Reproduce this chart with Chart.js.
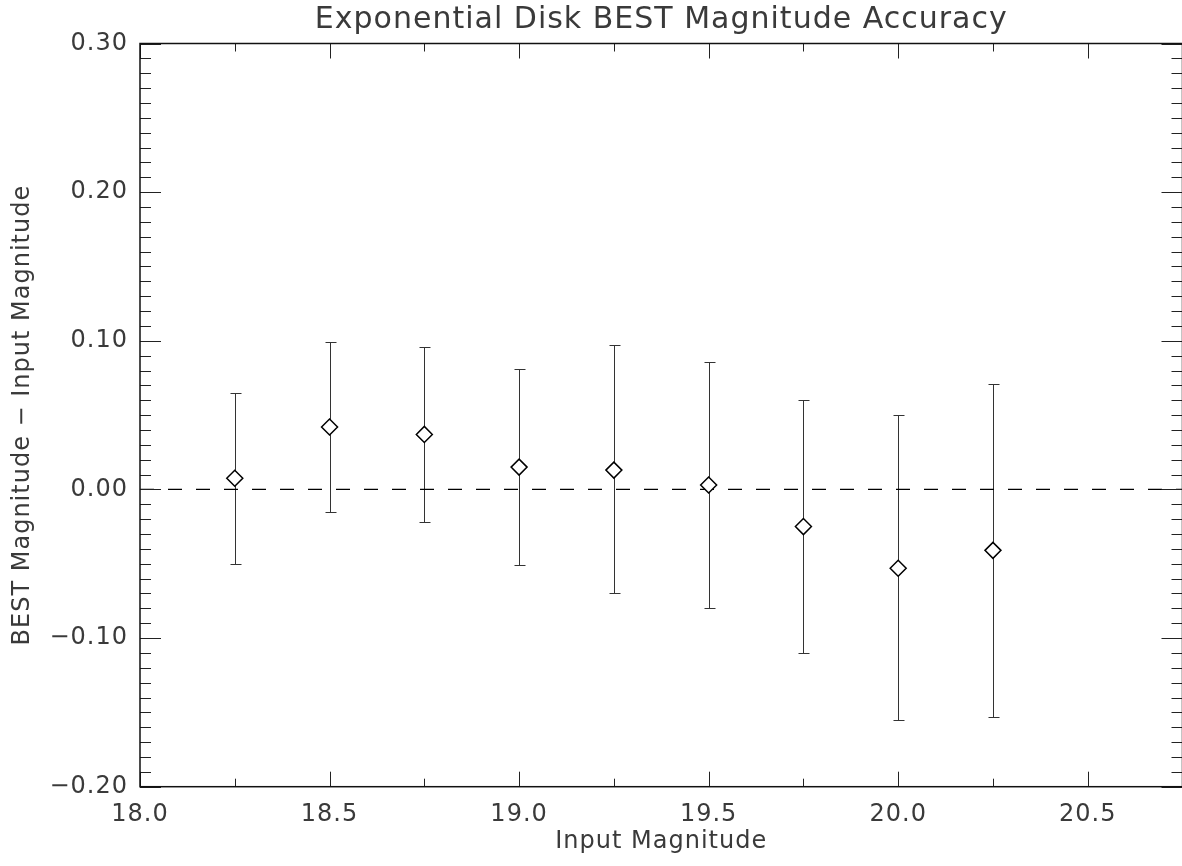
<!DOCTYPE html>
<html>
<head>
<meta charset="utf-8">
<title>Exponential Disk BEST Magnitude Accuracy</title>
<script src="https://cdn.jsdelivr.net/npm/chart.js@4/dist/chart.umd.min.js"></script>
<style>
  html, body { margin: 0; padding: 0; background: #fff; overflow: hidden; }
  #wrap { width: 1192px; height: 866px; }
</style>
</head>
<body>
<div id="wrap"><canvas id="chart" width="1192" height="866"></canvas></div>
<script>
// Input magnitudes and measured offsets (BEST - input)
const inputMags = [18.25, 18.5, 18.75, 19.0, 19.25, 19.5, 19.75, 20.0, 20.25];
const magOffsets = [0.0075, 0.042, 0.037, 0.015, 0.013, 0.003, -0.025, -0.053, -0.041];
const errUpper = [0.065, 0.099, 0.096, 0.081, 0.097, 0.086, 0.060, 0.050, 0.071];
const errLower = [-0.050, -0.015, -0.022, -0.051, -0.070, -0.080, -0.110, -0.155, -0.153];

// zero reference line
const zeroLineX = [18.0, 20.75];
const zeroLineY = [0, 0];

// axis ranges / labelled ticks
const xRange = [18.0, 20.75];
const yRange = [-0.2, 0.3];
const xLabelTicks = [18.0, 18.5, 19.0, 19.5, 20.0, 20.5];
const yLabelTicks = [-0.2, -0.1, 0.0, 0.1, 0.2, 0.3];

const FONT = "'DejaVu Sans', 'Liberation Sans', sans-serif";
const TEXT = "#3a3a3a";

function isLabelTick(list, v) {
  return list.some((t) => Math.abs(t - v) < 1e-6);
}

function fmtY(v) {
  const s = Math.abs(v).toFixed(2);
  return v < -1e-9 ? "\u2212" + s : s;
}

// wider letter spacing, closer to the plotting font of the original
const spacing = {
  id: "spacing",
  beforeLayout(chart) {
    chart.ctx.letterSpacing = "1px";
  },
  beforeDraw(chart) {
    chart.ctx.letterSpacing = "1px";
  },
};

// Error bars drawn through the chart scales
const errorBars = {
  id: "errorBars",
  beforeDatasetsDraw(chart) {
    const { ctx, scales: { x, y } } = chart;
    ctx.save();
    ctx.strokeStyle = "#333";
    ctx.lineWidth = 1;
    inputMags.forEach((m, i) => {
      const px = Math.round(x.getPixelForValue(m)) + 0.5;
      const top = Math.round(y.getPixelForValue(errUpper[i])) + 0.5;
      const bot = Math.round(y.getPixelForValue(errLower[i])) + 0.5;
      ctx.beginPath();
      ctx.moveTo(px, top);
      ctx.lineTo(px, bot);
      ctx.moveTo(px - 5, top);
      ctx.lineTo(px + 6, top);
      ctx.moveTo(px - 5, bot);
      ctx.lineTo(px + 6, bot);
      ctx.stroke();
    });
    ctx.restore();
  },
};

// IDL style box with inward ticks on all four sides
const frameTicks = {
  id: "frameTicks",
  afterDraw(chart) {
    const { ctx, chartArea: a, scales: { x, y } } = chart;
    ctx.save();
    ctx.strokeStyle = "#222";
    ctx.lineWidth = 1;
    ctx.beginPath();
    x.ticks.forEach((t) => {
      const px = Math.round(x.getPixelForValue(t.value)) + 0.5;
      const len = isLabelTick(xLabelTicks, t.value) ? 15 : 8;
      ctx.moveTo(px, a.bottom);
      ctx.lineTo(px, a.bottom - len);
      ctx.moveTo(px, a.top);
      ctx.lineTo(px, a.top + len);
    });
    y.ticks.forEach((t) => {
      const py = Math.round(y.getPixelForValue(t.value)) + 0.5;
      const len = isLabelTick(yLabelTicks, t.value) ? 21 : 11;
      ctx.moveTo(a.left, py);
      ctx.lineTo(a.left + len, py);
      ctx.moveTo(a.right, py);
      ctx.lineTo(a.right - len, py);
    });
    ctx.stroke();
    ctx.lineWidth = 1.5;
    ctx.strokeStyle = "#111";
    ctx.strokeRect(a.left, a.top, a.right - a.left, a.bottom - a.top);
    ctx.restore();
  },
};

const ctx = document.getElementById("chart").getContext("2d");

new Chart(ctx, {
  type: "scatter",
  data: {
    datasets: [
      {
        label: "BEST - Input",
        data: inputMags.map((m, i) => ({ x: m, y: magOffsets[i] })),
        pointStyle: "rectRot",
        pointRadius: 8,
        pointHoverRadius: 8,
        pointBorderWidth: 1.5,
        borderColor: "#000",
        backgroundColor: "#fff",
        showLine: false,
      },
      {
        label: "zero",
        data: zeroLineX.map((v, i) => ({ x: v, y: zeroLineY[i] })),
        showLine: true,
        borderColor: "#000",
        borderWidth: 1.3,
        borderDash: [14, 14],
        pointRadius: 0,
        pointHoverRadius: 0,
      },
    ],
  },
  options: {
    responsive: false,
    animation: false,
    events: [],
    layout: { padding: { left: 0, right: 4.5, top: 0, bottom: 0 } },
    plugins: {
      legend: { display: false },
      tooltip: { enabled: false },
      title: {
        display: true,
        fullSize: false,
        text: "Exponential Disk BEST Magnitude Accuracy",
        color: TEXT,
        font: { family: FONT, size: 30, weight: "normal" },
        padding: { top: 2, bottom: 5.5 },
      },
    },
    scales: {
      x: {
        type: "linear",
        min: xRange[0],
        max: xRange[1],
        grid: { display: false, drawTicks: false },
        border: { display: false },
        ticks: {
          stepSize: 0.25,
          autoSkip: false,
          maxRotation: 0,
          padding: 14,
          color: TEXT,
          font: { family: FONT, size: 24 },
          callback: (v) => (isLabelTick(xLabelTicks, v) ? v.toFixed(1) : ""),
        },
        title: {
          display: true,
          text: "Input Magnitude",
          color: TEXT,
          font: { family: FONT, size: 24 },
          padding: { top: 0, bottom: 10 },
        },
        afterFit: (scale) => {
          scale.height = 79.3;
          scale.paddingLeft = 0;
          scale.paddingRight = 0;
        },
      },
      y: {
        type: "linear",
        min: yRange[0],
        max: yRange[1],
        grid: { display: false, drawTicks: false },
        border: { display: false },
        ticks: {
          stepSize: 0.01,
          autoSkip: false,
          padding: 12,
          color: TEXT,
          font: { family: FONT, size: 24 },
          callback: (v) => (isLabelTick(yLabelTicks, v) ? fmtY(v) : ""),
        },
        title: {
          display: true,
          text: "BEST Magnitude \u2212 Input Magnitude",
          color: TEXT,
          font: { family: FONT, size: 24 },
          padding: { top: 8, bottom: 0 },
        },
        afterFit: (scale) => {
          scale.width = 140;
          scale.paddingTop = 0;
          scale.paddingBottom = 0;
        },
      },
    },
  },
  plugins: [spacing, errorBars, frameTicks],
});
</script>
</body>
</html>
